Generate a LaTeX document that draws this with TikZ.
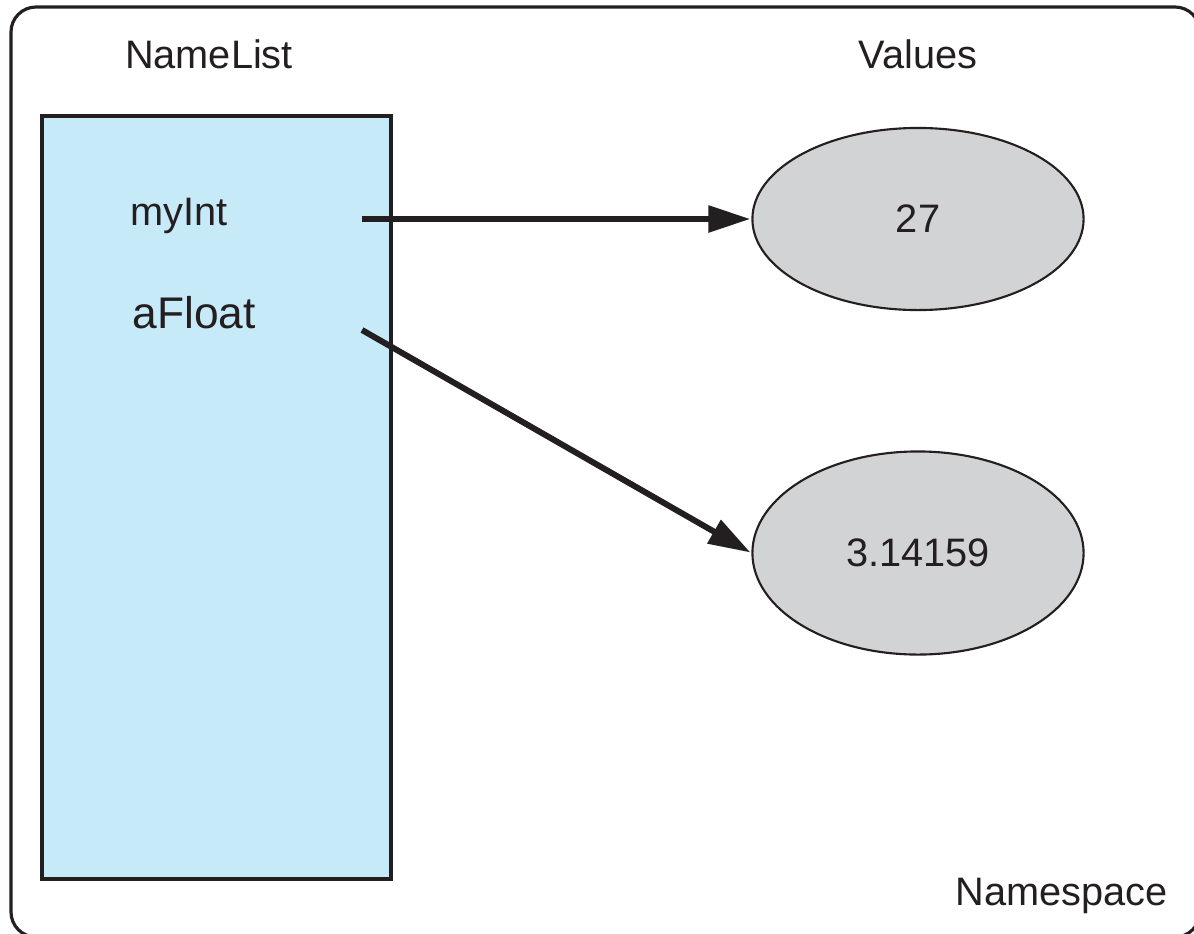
\documentclass[tikz,border=0pt]{standalone}
\usepackage{fontspec}
\setmainfont{Liberation Sans}
\usepackage{tikz}
\usetikzlibrary{arrows.meta,shapes.geometric}

\definecolor{listblue}{RGB}{199,234,249}
\definecolor{valgray}{RGB}{209,211,213}
\definecolor{inkdark}{RGB}{35,31,32}

\tikzset{
	label/.style={inner sep=0pt,text=inkdark,font=\fontsize{11.3}{13}\selectfont},
	value/.style={ellipse,draw=inkdark,line width=0.6pt,fill=valgray,inner sep=0pt,
		minimum width=3.31cm,text=inkdark,font=\fontsize{11.3}{13}\selectfont},
	ptr/.style={-{Triangle[length=4.2mm,width=2.6mm]},line width=1.7pt,draw=inkdark,shorten >=0.3pt}
}

\begin{document}
\begin{tikzpicture}[x=0.01cm,y=-0.01cm]
			\path[use as bounding box,clip] (0,0) rectangle (1194,933);

			% namespace frame
			\draw[line width=0.9pt,draw=inkdark,rounded corners=0.25cm] (11,7) rectangle (1200,937);
			\node[label,anchor=base west] (nspace) at (955,905) {Namespace};

			% name list
			\draw[line width=1.1pt,draw=inkdark,fill=listblue] (42,116) rectangle (391,879);
			\node[label,anchor=base] (namelist) at (209,68) {NameList};
			\node[label,anchor=base west] (myInt) at (130,225) {myInt};
			\node[label,anchor=base west,font=\fontsize{12.6}{14}\selectfont] (aFloat) at (132,328) {aFloat};

			% values
			\node[label,anchor=base] (values) at (918,68) {Values};
			\node[value,minimum height=1.82cm] (val27) at (918,219) {27};
			\node[value,minimum height=2.03cm] (valPi) at (918,553) {3.14159};

			\coordinate (myIntptr) at (362,219);
			\coordinate (aFloatptr) at (362,330);
			\draw[ptr] (myIntptr) -- (val27.west);
			\draw[ptr] (aFloatptr) -- (valPi.west);
		\end{tikzpicture}
\end{document}
